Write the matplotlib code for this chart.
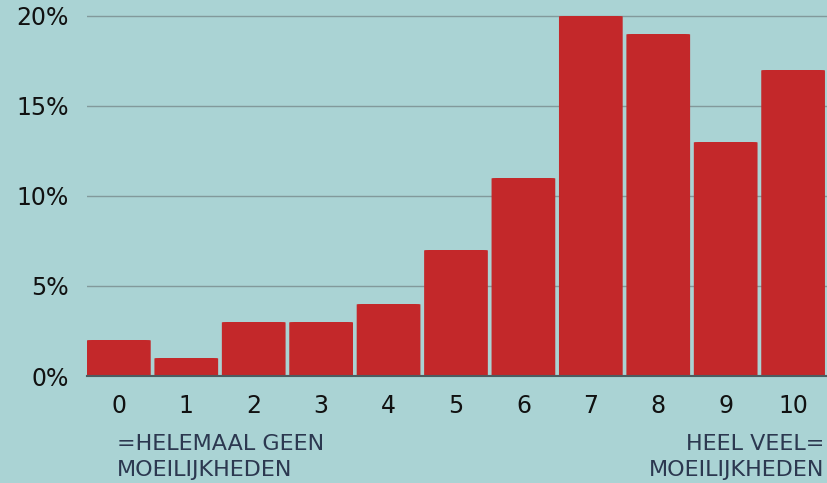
import matplotlib
matplotlib.use("Agg")
import matplotlib.pyplot as plt
from matplotlib.patches import FancyBboxPatch
from matplotlib.ticker import FuncFormatter

categories = ["0", "1", "2", "3", "4", "5", "6", "7", "8", "9", "10"]
values = [2, 1, 3, 3, 4, 7, 11, 20, 19, 13, 17]
yticks = [0, 5, 10, 15, 20]
left_note = "=HELEMAAL GEEN\nMOEILIJKHEDEN"
right_note = "HEEL VEEL=\nMOEILIJKHEDEN"

BG = "#aad3d4"
RED = "#c3282a"
GRID = "#82999b"
TXT = "#2c3850"

plt.rcParams['font.family'] = ['DejaVu Sans']

W, H = 828, 483
fig = plt.figure(figsize=(W / 100, H / 100), dpi=100, facecolor=BG)
ax_left = 87 / W
ax_right = 828 / W
ax_bottom = 1 - 376 / H
top_px = 10
ax = fig.add_axes([ax_left, ax_bottom, ax_right - ax_left, (376 - top_px) / H])
ax.set_facecolor(BG)

x = list(range(len(categories)))
width = 0.945
bars = ax.bar(x, values, width=width, color=RED, alpha=0)
ax.set_xlim(-width / 2, 10 + width / 2 + 0.045)
ax.set_ylim(0, 20 * (376 - top_px) / 360)

# rounded-top bars built from the bar geometry
for b in bars:
    bx, by = b.get_x(), b.get_y()
    bw, bh = b.get_width(), b.get_height()
    p = FancyBboxPatch((bx, by - 1), bw, bh + 1,
                       boxstyle="round,pad=0,rounding_size=0.08",
                       mutation_aspect=0.27,
                       facecolor=RED, edgecolor="none", zorder=3)
    ax.add_patch(p)

ax.set_yticks(yticks)
ax.yaxis.set_major_formatter(FuncFormatter(lambda v, p: f"{int(v)}%"))
ax.grid(axis="y", color=GRID, linewidth=1.0, zorder=0)
ax.set_axisbelow(True)
ax.set_xticks(x)
ax.set_xticklabels(categories)
ax.tick_params(axis="both", length=0, labelsize=17, colors="#111111")
ax.tick_params(axis="y", pad=13)
ax.tick_params(axis="x", pad=13)
for s in ["top", "right", "left"]:
    ax.spines[s].set_visible(False)
ax.spines["bottom"].set_color("#4d5c60")
ax.spines["bottom"].set_linewidth(1.5)
ax.spines["bottom"].set_zorder(4)

fig.text(117 / W, 1 - 434 / H, left_note, ha="left", va="top",
         fontsize=16, color=TXT, linespacing=1.4)
fig.text(824 / W, 1 - 434 / H, right_note, ha="right", va="top",
         fontsize=16, color=TXT, linespacing=1.4, multialignment="right")

fig.savefig("out.png", dpi=100, facecolor=BG)
